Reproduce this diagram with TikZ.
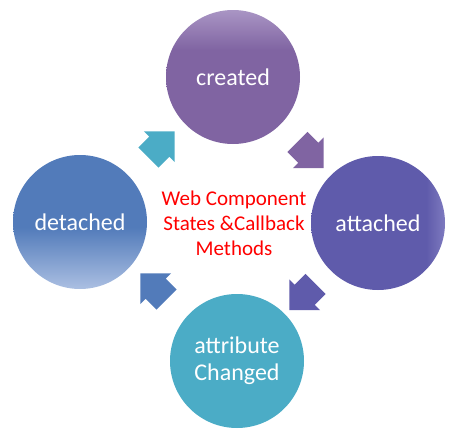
\documentclass[tikz,border=0pt]{standalone}
\usepackage{fontspec}
\setmainfont{Carlito}
\usepackage{xcolor}
\usepackage{tikz}
\usetikzlibrary{positioning, shapes.arrows, calc}
\definecolor{createdpurple}{HTML}{8064A2}
\definecolor{createdtop}{HTML}{A995C4}
\definecolor{attachedindigo}{HTML}{5F5BAB}
\definecolor{attachededge}{HTML}{7E7ABF}
\definecolor{detachedblue}{HTML}{527BBA}
\definecolor{detachedlow}{HTML}{ABBFE2}
\definecolor{changedteal}{HTML}{4BACC6}
% shadings: the node fills the 25bp--75bp band
\pgfdeclareverticalshading{createdshade}{100bp}{color(0bp)=(createdpurple);
  color(60bp)=(createdpurple); color(75bp)=(createdtop); color(100bp)=(createdtop)}
\pgfdeclareverticalshading{detachedshade}{100bp}{color(0bp)=(detachedlow);
  color(25bp)=(detachedlow); color(48bp)=(detachedblue); color(100bp)=(detachedblue)}
\pgfdeclarehorizontalshading{attachedshade}{100bp}{color(0bp)=(attachedindigo);
  color(68bp)=(attachedindigo); color(75bp)=(attachededge); color(100bp)=(attachededge)}

\begin{document}
\begin{tikzpicture}[x=1pt, y=-1pt,
  state/.style={circle, minimum size=134pt, inner sep=0pt, text=white,
                align=center, font=\fontsize{24}{27}\selectfont},
  fatarrow/.style={single arrow, single arrow tip angle=90,
                   single arrow head extend=7.5pt, minimum height=37pt,
                   inner xsep=0pt, inner ysep=14pt}]
  \useasboundingbox (0,0) rectangle (459,439);

  % the four states
  \node[state, shading=createdshade] (created) at (233,77) {created};
  \node[state, shading=attachedshade] (attached) at (378,223) {attached};
  \node[state, fill=changedteal] (changed) at (237,361) {attribute\\Changed};
  \node[state, shading=detachedshade] (detached) at (80,222) {detached};

  % caption in the middle
  \node[text=red, align=center, font=\fontsize{21}{25}\selectfont]
    (caption) at (234,223) {Web Component\\States \&Callback\\Methods};

  % block arrows between the states
  \node[fatarrow, fill=createdpurple, rotate=-45]
    (arrAttach) at ($(created)!0.5!(attached)$) {};
  \node[fatarrow, fill=attachedindigo, rotate=-135]
    (arrChange) at ($(attached)!0.5!(changed)$) {};
  \node[fatarrow, fill=detachedblue, rotate=135]
    (arrDetach) at ($(changed)!0.5!(detached)$) {};
  \node[fatarrow, fill=changedteal, rotate=45]
    (arrCreate) at ($(detached)!0.5!(created)$) {};
\end{tikzpicture}
\end{document}
